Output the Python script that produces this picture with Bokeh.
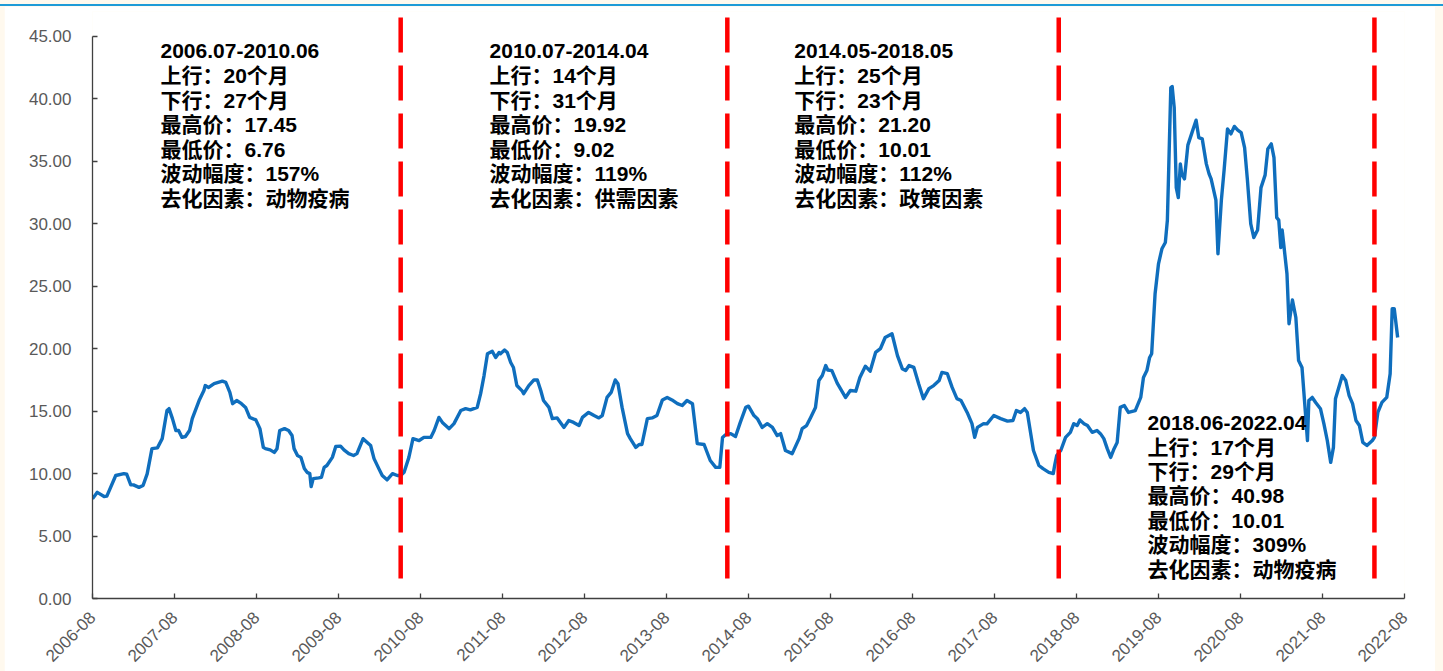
import math
from bokeh.plotting import figure
from bokeh.models import ColumnDataSource, FixedTicker, NumeralTickFormatter, Range1d
from bokeh.core.properties import value
from bokeh.embed import file_html
from bokeh.resources import INLINE
from bokeh.layouts import column

# ---------------- data ----------------
tick_labels = ["2006-08", "2007-08", "2008-08", "2009-08", "2010-08", "2011-08",
               "2012-08", "2013-08", "2014-08", "2015-08", "2016-08", "2017-08",
               "2018-08", "2019-08", "2020-08", "2021-08", "2022-08"]

# months elapsed since 2006-08
months = [
    0.0, 0.7, 1.7, 2.1, 3.4, 4.6, 5.0, 5.6, 6.0, 6.8, 7.4, 8.0, 8.7, 9.5, 10.2, 10.9,
    11.2, 11.7, 12.2, 12.6, 13.1, 13.6, 14.2, 14.6, 15.6, 16.3, 16.5, 17.0, 17.8, 19.0,
    19.5, 20.1, 20.5, 21.1, 21.8, 22.4, 23.0, 23.9, 24.5, 25.0, 25.3, 26.0, 26.6, 27.0,
    27.4, 28.1, 28.7, 29.2, 29.5, 30.0, 30.5, 31.0, 31.4, 31.8, 32.0, 32.3, 33.1, 33.5,
    33.9, 34.3, 35.1, 35.6, 36.3, 36.8, 37.5, 38.2, 38.7, 39.6, 40.2, 40.7, 41.2, 41.9,
    42.4, 43.1, 43.9, 44.6, 45.1, 45.6, 46.3, 46.9, 47.8, 48.5, 49.5, 50.0, 50.7, 51.2,
    52.2, 52.9, 53.9, 54.6, 55.3, 56.3, 56.8, 57.3, 57.8, 58.5, 59.0, 59.5, 59.7, 60.3,
    60.7, 61.2, 61.6, 62.1, 62.9, 63.1, 63.85, 64.6, 65.1, 65.6, 66.0, 66.8, 67.3, 68.0,
    69.0, 69.7, 70.4, 71.2, 71.7, 72.6, 73.4, 74.1, 74.6, 75.3, 75.9, 76.5, 76.9, 77.5,
    78.3, 78.7, 79.5, 80.0, 80.4, 81.2, 81.9, 82.6, 83.4, 84.1, 84.8, 85.6, 86.3, 87.0,
    87.8, 88.5, 89.5, 90.4, 91.2, 91.8, 92.2, 92.6, 93.4, 94.1, 94.8, 95.6, 96.0, 96.8,
    97.3, 98.0, 98.75, 99.5, 100.2, 100.7, 101.4, 102.4, 103.4, 103.85, 104.5, 105.1,
    105.8, 106.3, 106.8, 107.3, 107.6, 108.2, 108.98, 110.2, 110.9, 111.7, 112.3, 113.1,
    113.8, 114.6, 115.3, 116.0, 117.0, 117.8, 118.5, 119.0, 119.5, 120.2, 120.9, 121.6,
    122.4, 123.1, 123.9, 124.3, 125.1, 125.8, 126.5, 127.1, 128.0, 128.7, 129.1, 129.5,
    130.4, 130.9, 131.9, 132.9, 133.9, 134.7, 135.2, 135.8, 136.4, 136.8, 137.7, 138.5,
    139.1, 139.95, 140.6, 140.8, 141.1, 141.7, 142.4, 143.1, 143.6, 144.1, 144.5, 145.1,
    145.6, 146.3, 147.0, 147.5, 148.0, 148.5, 149.0, 149.5, 149.95, 150.4, 151.0, 151.6,
    152.6, 153.4, 153.8, 154.3, 154.7, 155.0, 155.5, 156.0, 156.5, 157.0, 157.3, 157.5,
    157.8, 158.0, 158.3, 158.6, 158.9, 159.2, 159.4, 159.8, 160.3, 160.9, 161.5, 161.9,
    162.4, 163.0, 163.4, 163.7, 164.4, 164.7, 165.2, 165.6, 166.1, 166.6, 167.1, 167.6,
    168.1, 168.6, 169.0, 169.5, 169.95, 170.5, 171.0, 171.6, 172.0, 172.5, 172.9, 173.3,
    173.6, 173.9, 174.1, 174.4, 174.8, 175.1, 175.6, 176.1, 176.5, 177.0, 177.4, 177.8,
    178.0, 178.5, 179.0, 179.7, 180.2, 180.7, 181.2, 181.6, 181.9, 182.9, 183.4, 183.9,
    184.4, 184.9, 185.4, 185.9, 186.5, 187.3, 187.6, 188.1, 188.7, 189.4, 189.9, 190.2,
    190.5, 191.0,
]
price = [
    7.98, 8.5, 8.17, 8.2, 9.85, 10.0, 9.95, 9.1, 9.1, 8.9, 9.05, 9.98, 12.0, 12.06, 12.8, 15.05,
    15.2, 14.4, 13.45, 13.45, 12.9, 12.97, 13.45, 14.4, 15.85, 16.65, 17.05, 16.9, 17.2, 17.4,
    17.3, 16.5, 15.6, 15.85, 15.6, 15.3, 14.5, 14.3, 13.6, 12.1, 12.0, 11.9, 11.7, 12.0,
    13.45, 13.6, 13.45, 13.05, 12.0, 11.45, 11.3, 10.4, 10.1, 10.0, 8.97, 9.6, 9.66, 9.7,
    10.5, 10.65, 11.3, 12.17, 12.2, 11.9, 11.6, 11.45, 11.6, 12.8, 12.5, 12.25, 11.2, 10.4,
    9.85, 9.5, 10.0, 9.85, 9.85, 10.1, 11.3, 12.8, 12.65, 12.9, 12.9, 13.45, 14.5, 14.1,
    13.6, 14.0, 15.05, 15.2, 15.1, 15.3, 16.4, 17.85, 19.6, 19.8, 19.3, 19.7, 19.6, 19.9,
    19.7, 18.9, 18.5, 17.05, 16.6, 16.4, 17.05, 17.5, 17.5, 16.65, 15.85, 15.3, 14.4, 14.46,
    13.7, 14.25, 14.1, 13.85, 14.5, 14.9, 14.65, 14.46, 14.65, 16.1, 16.5, 17.5, 17.2, 15.3,
    13.2, 12.8, 12.1, 12.33, 12.33, 14.4, 14.46, 14.65, 15.9, 16.1, 15.9, 15.6, 15.45, 15.85,
    15.6, 12.4, 12.33, 11.05, 10.5, 10.5, 12.9, 13.1, 13.2, 12.97, 14.1, 15.3, 15.4, 14.65,
    14.4, 13.7, 14.0, 13.7, 13.05, 13.2, 11.85, 11.6, 12.8, 13.6, 13.85, 14.5,
    15.3, 17.45, 17.85, 18.65, 18.3, 18.25, 17.24, 16.1, 16.65, 16.6, 17.7, 18.6,
    18.2, 19.7, 20.0, 20.9, 21.2, 19.45, 18.4, 18.25, 18.65, 18.5, 17.2, 16.0,
    16.8, 17.05, 17.45, 18.1, 18.0, 16.9, 16.0, 15.85, 14.9, 14.0, 12.9, 13.7,
    14.0, 13.98, 14.65, 14.4, 14.2, 14.25, 15.05, 14.9, 15.2, 14.9, 11.85, 10.65,
    10.4, 10.1, 10.0, 10.65, 11.45, 11.85, 12.9, 13.3, 14.0, 13.85, 14.3, 14.0,
    13.85, 13.3, 13.45, 13.2, 12.8, 12.0, 11.3, 12.0, 12.5, 15.3, 15.45, 14.9,
    15.05, 16.1, 17.7, 18.25, 19.3, 19.6, 24.4, 26.8, 28.0, 28.5, 30.3, 34.5,
    40.9, 41.0, 39.3, 32.9, 32.1, 34.8, 34.0, 33.6, 36.3, 37.3, 38.3, 36.9,
    36.8, 34.8, 34.0, 33.6, 31.9, 27.6, 31.9, 34.3, 37.6, 37.2, 37.8, 37.5,
    37.3, 36.1, 33.6, 30.0, 28.9, 29.5, 32.9, 33.9, 36.0, 36.4, 35.3, 30.5,
    30.3, 28.1, 29.5, 28.0, 26.0, 22.0, 23.9, 22.5, 19.05, 18.5, 15.6, 12.65,
    15.85, 16.1, 15.7, 15.2, 14.0, 12.65, 10.9, 12.1, 16.0, 17.85, 17.45, 16.25,
    15.6, 14.25, 13.85, 12.5, 12.25, 12.65, 12.9, 14.9, 15.7, 16.1, 18.0, 23.2,
    23.2, 20.9,
]

# cycle boundaries (months since 2006-08)
boundary_months = [45.1, 92.9, 141.4, 187.6]

period_labels = ["2006.07-2010.06", "2010.07-2014.04", "2014.05-2018.05", "2018.06-2022.04"]
up_months = ["20", "14", "25", "17"]
down_months = ["27", "31", "23", "29"]
high_price = ["17.45", "19.92", "21.20", "40.98"]
low_price = ["6.76", "9.02", "10.01", "10.01"]
amplitude = ["157%", "119%", "112%", "309%"]
factors = ["动物疫病", "供需因素", "政策因素", "动物疫病"]

# ---------------- layout constants ----------------
block_x = [9.95, 58.1, 102.7, 154.4]
block_top = [43.8, 43.8, 43.8, 14.09]
line_step = 1.96

FONT = "Liberation Sans, Noto Sans CJK SC"

p = figure(width=1431, height=665, output_backend="svg", toolbar_location=None,
           x_range=Range1d(0, 192), y_range=Range1d(0, 47),
           min_border_left=88, min_border_right=31, min_border_top=5, min_border_bottom=73,
           background_fill_color="white", border_fill_color="white")
p.margin = (6, 8, 0, 4)
p.outline_line_color = None
p.grid.grid_line_color = None

# axes
p.yaxis.ticker = FixedTicker(ticks=[0, 5, 10, 15, 20, 25, 30, 35, 40, 45])
p.yaxis.formatter = NumeralTickFormatter(format="0.00")
p.yaxis.bounds = (0, 45)
p.xaxis.ticker = FixedTicker(ticks=[12 * i for i in range(len(tick_labels))])
p.xaxis.major_label_overrides = {12 * i: lab for i, lab in enumerate(tick_labels)}
p.xaxis.major_label_orientation = math.pi / 4
for ax in (p.xaxis, p.yaxis):
    ax.axis_line_color = "#404040"
    ax.axis_line_width = 1.3
    ax.major_tick_line_color = "#404040"
    ax.major_tick_line_width = 1.3
    ax.major_tick_in = 5
    ax.major_tick_out = 0
    ax.minor_tick_line_color = None
    ax.major_label_text_color = "#595959"
    ax.major_label_text_font = "Liberation Sans"
p.yaxis.major_label_text_font_size = "17px"
p.yaxis.major_label_standoff = 21
p.xaxis.major_label_text_font_size = "17px"
p.xaxis.major_label_standoff = 16

# price line
src = ColumnDataSource(dict(x=months, y=price))
p.line("x", "y", source=src, line_color="#0F6EBD", line_width=3.4, line_join="round")

# red dashed cycle boundaries
p.segment(x0=boundary_months, y0=[46.52] * len(boundary_months),
          x1=boundary_months, y1=[1.6] * len(boundary_months),
          line_color="#FF0000", line_width=4.5, line_dash="35 13")

# annotation blocks
tx, ty, tt = [], [], []
for i in range(4):
    lines = [period_labels[i],
             "上行：" + up_months[i] + "个月",
             "下行：" + down_months[i] + "个月",
             "最高价：" + high_price[i],
             "最低价：" + low_price[i],
             "波动幅度：" + amplitude[i],
             "去化因素：" + factors[i]]
    for j, s in enumerate(lines):
        tx.append(block_x[i])
        ty.append(block_top[i] - j * line_step)
        tt.append(s)
tsrc = ColumnDataSource(dict(x=tx, y=ty, text=tt))
p.text("x", "y", text="text", source=tsrc, text_font=value(FONT), text_font_style="bold",
       text_font_size="21px", text_color="black", text_align="left", text_baseline="middle")

layout = column(p, styles={"background": "linear-gradient(to bottom, #FFF9EE 0px, #FFF9EE 4px, #1E9BD7 4px, #1E9BD7 6px, #FFF9EE 6px)"})

with open("out.html", "w") as f:
    f.write(file_html(layout, INLINE))
